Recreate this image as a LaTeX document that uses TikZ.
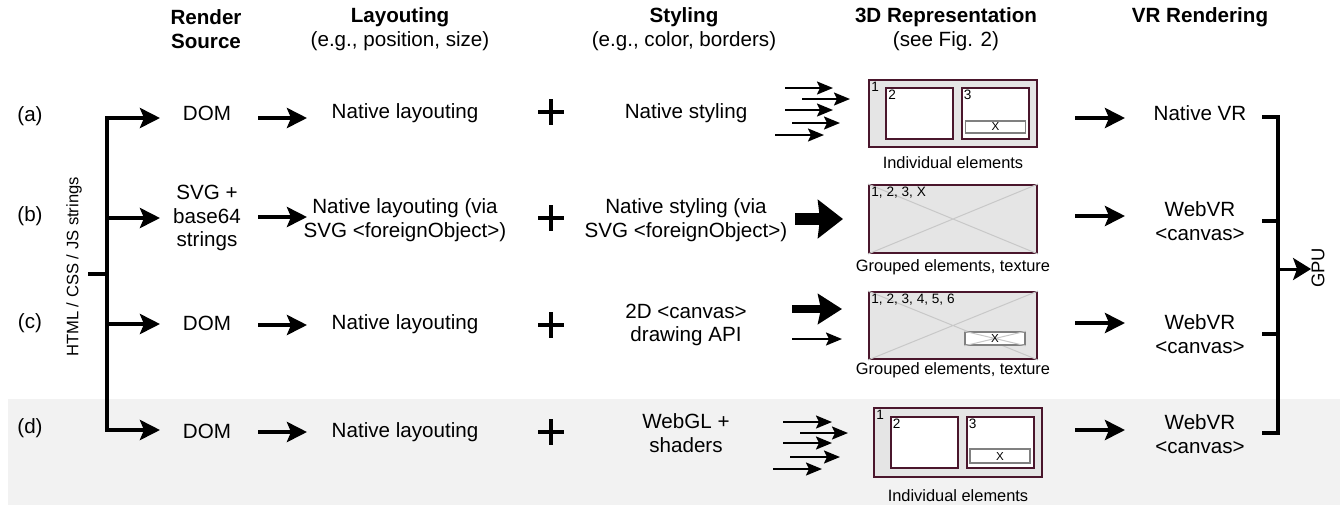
\documentclass[tikz,border=0pt]{standalone}
\usepackage{fontspec}
\setmainfont{Liberation Sans}
\usepackage{xcolor}
\usepackage{tikz}
\usetikzlibrary{arrows.meta, positioning}
\definecolor{frame}{RGB}{74,22,44}
\definecolor{panel}{RGB}{229,229,229}
\definecolor{band}{RGB}{242,242,242}
\definecolor{diag}{RGB}{200,200,200}
\definecolor{btn}{RGB}{128,128,128}

\begin{document}
\begin{tikzpicture}[
  x=0.5pt, y=-0.5pt,
  txt/.style={inner sep=0pt, align=center, font=\fontsize{10.3}{11.8}\selectfont},
  sidetxt/.style={inner sep=0pt, rotate=90, font=\fontsize{8.3}{9.5}\selectfont},
  captxt/.style={inner sep=0pt, font=\fontsize{8.2}{9.5}\selectfont},
  numtxt/.style={inner sep=1.5pt, font=\fontsize{6.8}{7.5}\selectfont},
  rep/.style={draw=frame, fill=panel, line width=1pt, inner sep=0pt, minimum width=84pt},
  elem/.style={draw=frame, fill=white, line width=1pt, inner sep=0pt, minimum width=33.5pt, minimum height=25.5pt},
  xbtn/.style={draw=btn, fill=white, line width=0.8pt, inner sep=0pt, minimum width=30pt, font=\fontsize{5.8}{6}\selectfont},
  diagline/.style={draw=diag, line width=0.5pt},
  arr/.style={-{Stealth[length=10pt, width=10pt, inset=2pt]}, line width=2pt},
  smallarr/.style={-{Stealth[length=8pt, width=6.5pt, inset=1.5pt]}, line width=1pt},
  bigarr/.style={-{Stealth[length=12.5pt, width=19pt, inset=1pt]}, line width=6pt},
  midarr/.style={-{Stealth[length=12pt, width=15pt, inset=1.5pt]}, line width=4pt},
  gpuarr/.style={-{Stealth[length=9pt, width=11pt, inset=2pt]}, line width=1.5pt},
  brk/.style={line width=2pt, line cap=rect},
  plusline/.style={line width=1.9pt}
]
  \useasboundingbox (0,0) rectangle (1340,505);
  % Shaded row (d)
  \fill[band] (8,399) rectangle (1340,505);

  % Column headers
  \node[txt] (hsrc) at (206,29) {\textbf{Render}\\\textbf{Source}};
  \node[txt] (hlay) at (400,29) {\textbf{Layouting}\\(e.g., position, size)};
  \node[txt] (hsty) at (684,29) {\textbf{Styling}\\(e.g., color, borders)};
  \node[txt] (hrep) at (946,29) {\textbf{3D Representation}\\(see Fig. 2)};
  \node[txt] (hvr) at (1200,17) {\textbf{VR Rendering}};

  % Row labels and input
  \node[txt] (la) at (30,116) {(a)};
  \node[txt] (lb) at (30,216) {(b)};
  \node[txt] (lc) at (30,323) {(c)};
  \node[txt] (ld) at (30,428) {(d)};
  \node[sidetxt] (html) at (74,267) {HTML / CSS / JS strings};
  \draw[brk] (107,118) -- (107,430);
  \draw[brk] (90,274) -- (107,274);
  \foreach \y in {118,218,324,430}
    \draw[arr] (107,\y) -- (160,\y);

  % Render source
  \node[txt] (srca) at (207,113) {DOM};
  \node[txt] (srcb) at (207,218) {SVG +\\base64\\strings};
  \node[txt] (srcc) at (207,323) {DOM};
  \node[txt] (srcd) at (207,431) {DOM};
  \foreach \y in {118,217,325,432}
    \draw[arr] (258,\y) -- (307,\y);

  % Layouting
  \node[txt] (laya) at (405,113) {Native layouting};
  \node[txt] (layb) at (405,220) {Native layouting (via\\SVG <foreignObject>)};
  \node[txt] (layc) at (405,324) {Native layouting};
  \node[txt] (layd) at (405,432) {Native layouting};
  \foreach \y in {112,218,325,432}
    \draw[plusline] (538,\y) -- (564,\y) (551,\y-13) -- (551,\y+13);

  % Styling
  \node[txt] (stya) at (686,113) {Native styling};
  \node[txt] (styb) at (686,220) {Native styling (via\\SVG <foreignObject>)};
  \node[txt] (styc) at (686,325) {2D <canvas>\\drawing API};
  \node[txt] (styd) at (686,433) {WebGL +\\shaders};

  % 3D representation (a)
  \foreach \xs/\xe/\y in {785/833/88, 802/850/99, 785/833/110, 792/840/123, 775/824/135}
    \draw[smallarr] (\xs,\y) -- (\xe,\y);
  \node[rep, minimum height=33.5pt] (repa) at (953,113.5) {};
  \node[numtxt, anchor=north west] (na1) at (repa.north west) {1};
  \node[elem] (ela2) at (919.5,113.5) {};
  \node[numtxt, anchor=north west] (na2) at (ela2.north west) {2};
  \node[elem] (ela3) at (995,113.5) {};
  \node[numtxt, anchor=north west] (na3) at (ela3.north west) {3};
  \node[xbtn, minimum height=6pt] (xa) at (995.5,127) {X};
  \node[captxt] (capa) at (953,163) {Individual elements};

  % 3D representation (b)
  \draw[bigarr] (795,219) -- (843,219);
  \node[rep, minimum height=34pt] (repb) at (953,219) {};
  \draw[diagline] (repb.north west) -- (repb.south east) (repb.south west) -- (repb.north east);
  \node[numtxt, anchor=north west] (nb) at (repb.north west) {1, 2, 3, X};
  \node[captxt] (capb) at (953,267) {Grouped elements, texture};

  % 3D representation (c)
  \draw[midarr] (792,309) -- (842,309);
  \draw[smallarr] (792,339) -- (842,339);
  \node[rep, minimum height=33.5pt] (repc) at (953,325.5) {};
  \draw[diagline] (repc.north west) -- (repc.south east) (repc.south west) -- (repc.north east);
  \node[numtxt, anchor=north west] (nc) at (repc.north west) {1, 2, 3, 4, 5, 6};
  \node[xbtn, minimum height=6.5pt] (xc) at (995,338.5) {};
  \draw[diagline] (xc.north west) -- (xc.south east) (xc.south west) -- (xc.north east);
  \node[xbtn, draw=none, fill=none] (xct) at (xc) {X};
  \node[captxt] (capc) at (953,370) {Grouped elements, texture};

  % 3D representation (d)
  \foreach \xs/\xe/\y in {783/832/422, 800/848/433, 783/832/443, 790/840/457, 773/822/469}
    \draw[smallarr] (\xs,\y) -- (\xe,\y);
  \node[rep, minimum height=34.5pt] (repd) at (958,442.5) {};
  \node[numtxt, anchor=north west] (nd1) at (repd.north west) {1};
  \node[elem] (eld2) at (924,442.5) {};
  \node[numtxt, anchor=north west] (nd2) at (eld2.north west) {2};
  \node[elem] (eld3) at (1000,442.5) {};
  \node[numtxt, anchor=north west] (nd3) at (eld3.north west) {3};
  \node[xbtn, minimum height=7pt] (xd) at (1000,456) {X};
  \node[captxt] (capd) at (958,496) {Individual elements};

  % VR rendering
  \foreach \y in {118,216,323,430}
    \draw[arr] (1075,\y) -- (1125,\y);
  \node[txt] (vra) at (1200,113) {Native VR};
  \node[txt] (vrb) at (1200,221) {WebVR\\<canvas>};
  \node[txt] (vrc) at (1200,334) {WebVR\\<canvas>};
  \node[txt] (vrd) at (1200,434) {WebVR\\<canvas>};

  % GPU
  \draw[line width=2pt, line join=miter] (1262,117) -- (1278,117) -- (1278,433) -- (1262,433);
  \draw[line width=2pt] (1262,221) -- (1278,221) (1262,334) -- (1278,334);
  \coordinate (bus) at (1278,269);
  \node[sidetxt, font=\fontsize{9.2}{10}\selectfont] (gpu) at (1318,268) {GPU};
  \draw[gpuarr] (bus) -- (bus -| gpu.north);
\end{tikzpicture}
\end{document}
